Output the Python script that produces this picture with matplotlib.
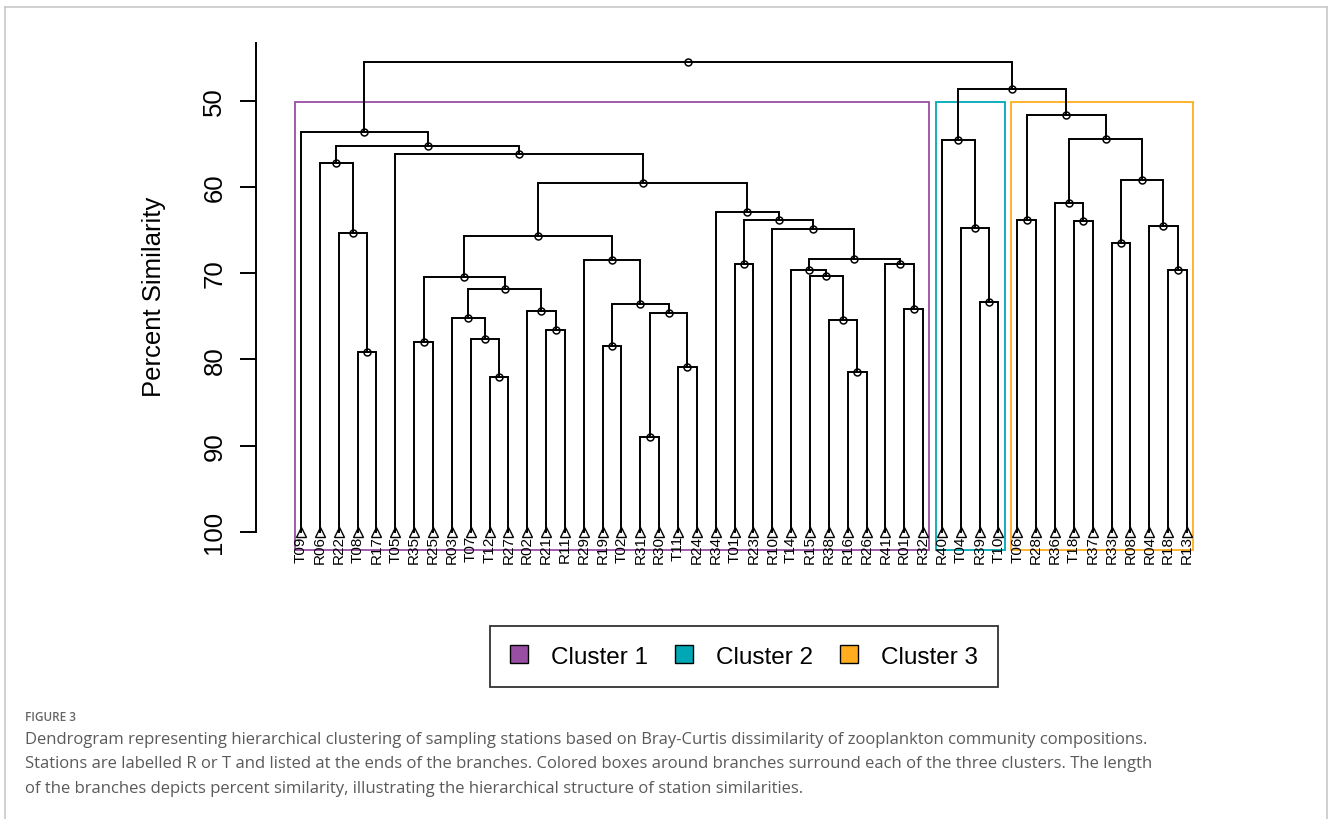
import matplotlib
matplotlib.use("Agg")
import matplotlib.pyplot as plt
from matplotlib.patches import Patch, Rectangle
from matplotlib.lines import Line2D

plt.rcParams["font.family"] = ["Liberation Sans", "DejaVu Sans"]

# stations in the order they appear along the bottom of the tree
stations = ["T09", "R06", "R22", "T08", "R17", "T05", "R35", "R25", "R03", "T07",
            "T12", "R27", "R02", "R21", "R11", "R29", "R19", "T02", "R31", "R30",
            "T11", "R24", "R34", "T01", "R23", "R10", "T14", "R15", "R38", "R16",
            "R26", "R41", "R01", "R32", "R40", "T04", "R39", "T10", "T06", "R28",
            "R36", "T18", "R37", "R33", "R08", "R04", "R18", "R13"]

# merge steps: (left, right, percent similarity); an int points to an earlier merge
merges = [
    ("T08", "R17", 79.1), ("R22", 0, 65.3), ("R06", 1, 57.2),
    ("R35", "R25", 78.0), ("T12", "R27", 82.0), ("T07", 4, 77.6),
    ("R03", 5, 75.2), ("R21", "R11", 76.6), ("R02", 7, 74.4),
    (6, 8, 71.9), (3, 9, 70.4), ("R19", "T02", 78.4),
    ("R31", "R30", 89.0), ("T11", "R24", 80.9), (12, 13, 74.6),
    (11, 14, 73.6), ("R29", 15, 68.5), (10, 16, 65.7),
    ("T01", "R23", 68.9), ("R16", "R26", 81.5), ("R38", 19, 75.5),
    ("R15", 20, 70.3), ("T14", 21, 69.6), ("R01", "R32", 74.2),
    ("R41", 23, 68.9), (22, 24, 68.4), ("R10", 25, 64.9),
    (18, 26, 63.8), ("R34", 27, 62.9), (17, 28, 59.5),
    ("T05", 29, 56.2), (2, 30, 55.3), ("T09", 31, 53.6),
    ("R39", "T10", 73.3), ("T04", 33, 64.8), ("R40", 34, 54.6),
    ("T06", "R28", 63.8), ("T18", "R37", 64.0), ("R36", 37, 61.9),
    ("R33", "R08", 66.5), ("R18", "R13", 69.6), ("R04", 40, 64.6),
    (39, 41, 59.2), (38, 42, 54.5), (36, 43, 51.7),
    (35, 44, 48.7), (32, 45, 45.5),
]

cluster_names = ["Cluster 1", "Cluster 2", "Cluster 3"]
cluster_sizes = [34, 4, 10]
cluster_colors = ["#984EA3", "#00A8B5", "#FFAD1F"]

caption_title = "FIGURE 3"
caption_lines = [
    "Dendrogram representing hierarchical clustering of sampling stations based on "
    "Bray-Curtis dissimilarity of zooplankton community compositions.",
    "Stations are labelled R or T and listed at the ends of the branches. Colored boxes "
    "around branches surround each of the three clusters. The length",
    "of the branches depicts percent similarity, illustrating the hierarchical structure "
    "of station similarities.",
]

W, H = 1328, 820
fig = plt.figure(figsize=(W / 100, H / 100), dpi=100)

leaf_level = 100.0
y_top, y_bottom = 43.3, 102.1
x_left, x_right = -2.39, 48.0
ax = fig.add_axes([256 / W, 1 - 550.9 / H, (1205.8 - 256) / W, (550.9 - 43.8) / H])
ax.set_xlim(x_left, x_right)
ax.set_ylim(y_bottom, y_top)

pos = {s: i for i, s in enumerate(stations)}
node_x, node_y = [], []


def coord(c):
    if isinstance(c, str):
        return pos[c], leaf_level
    return node_x[c], node_y[c]


for a, b, h in merges:
    xa, ya = coord(a)
    xb, yb = coord(b)
    ax.plot([xa, xa, xb, xb], [ya, h, h, yb], color="black", lw=1.4,
            solid_joinstyle="miter", clip_on=False)
    node_x.append((xa + xb) / 2)
    node_y.append(h)

# open circles on the nodes, open triangles on the leaves
ax.plot(node_x, node_y, "o", mfc="none", mec="black", ms=5, mew=1.1, clip_on=False)
ax.plot(range(len(stations)), [leaf_level] * len(stations), "^", mfc="none",
        mec="black", ms=6.5, mew=1.0, clip_on=False, zorder=3)

for i, s in enumerate(stations):
    ax.text(i, leaf_level + 0.4, s, rotation=90, ha="center", va="top",
            fontsize=11, clip_on=False)

# cluster boxes, cut between the 2nd and 3rd lowest merge
hs = sorted(h for _, _, h in merges)
cut = (hs[1] + hs[2]) / 2
start = 0
for n, c in zip(cluster_sizes, cluster_colors):
    x0 = start - 0.34
    x1 = start + n - 1 + 0.33
    ax.add_patch(Rectangle((x0, cut), x1 - x0, y_bottom - cut, fill=False,
                           ec=c, lw=1.3, clip_on=False, zorder=1))
    start += n

for side in ["top", "right", "bottom"]:
    ax.spines[side].set_visible(False)
ax.spines["left"].set_bounds(y_top, leaf_level)
ax.spines["left"].set_linewidth(1.4)
ax.set_xticks([])
ax.set_yticks([50, 60, 70, 80, 90, 100])
ax.tick_params(axis="y", labelrotation=90, length=11.3, width=1.4,
               labelsize=18.5, pad=10)
for t in ax.get_yticklabels():
    t.set_va("center")
ax.set_ylabel("Percent Similarity", fontsize=18.5, labelpad=26.5)

handles = [Patch(fc=c, ec="black", lw=1.0) for c in cluster_colors]
leg = fig.legend(handles, cluster_names, loc="center",
                 bbox_to_anchor=(744 / W, 1 - 657.5 / H), ncol=3, fontsize=17.5,
                 frameon=True, fancybox=False, edgecolor="black",
                 handlelength=0.75, handleheight=0.75, handletextpad=0.95,
                 columnspacing=1.1, borderpad=0.8)
leg.get_frame().set_linewidth(1.3)

# page border around the figure
grey = "#c8c8c8"
fig.add_artist(Line2D([4.5 / W, 4.5 / W], [0, 1 - 8 / H], color=grey, lw=1.2))
fig.add_artist(Line2D([4.5 / W, 1327 / W], [1 - 8 / H, 1 - 8 / H], color=grey, lw=1.2))
fig.add_artist(Line2D([1327 / W, 1327 / W], [0, 1 - 8 / H], color=grey, lw=1.2))

fig.text(25 / W, 1 - 718 / H, caption_title, fontsize=8.5, color="#666666",
         fontweight="semibold", family=["Open Sans", "DejaVu Sans"], va="center")
for k, line in enumerate(caption_lines):
    fig.text(25 / W, 1 - (740 + 24.5 * k) / H, line, fontsize=12, color="#5a5a5a",
             family=["Open Sans", "DejaVu Sans"], va="center")

fig.savefig("out.png", dpi=100)
